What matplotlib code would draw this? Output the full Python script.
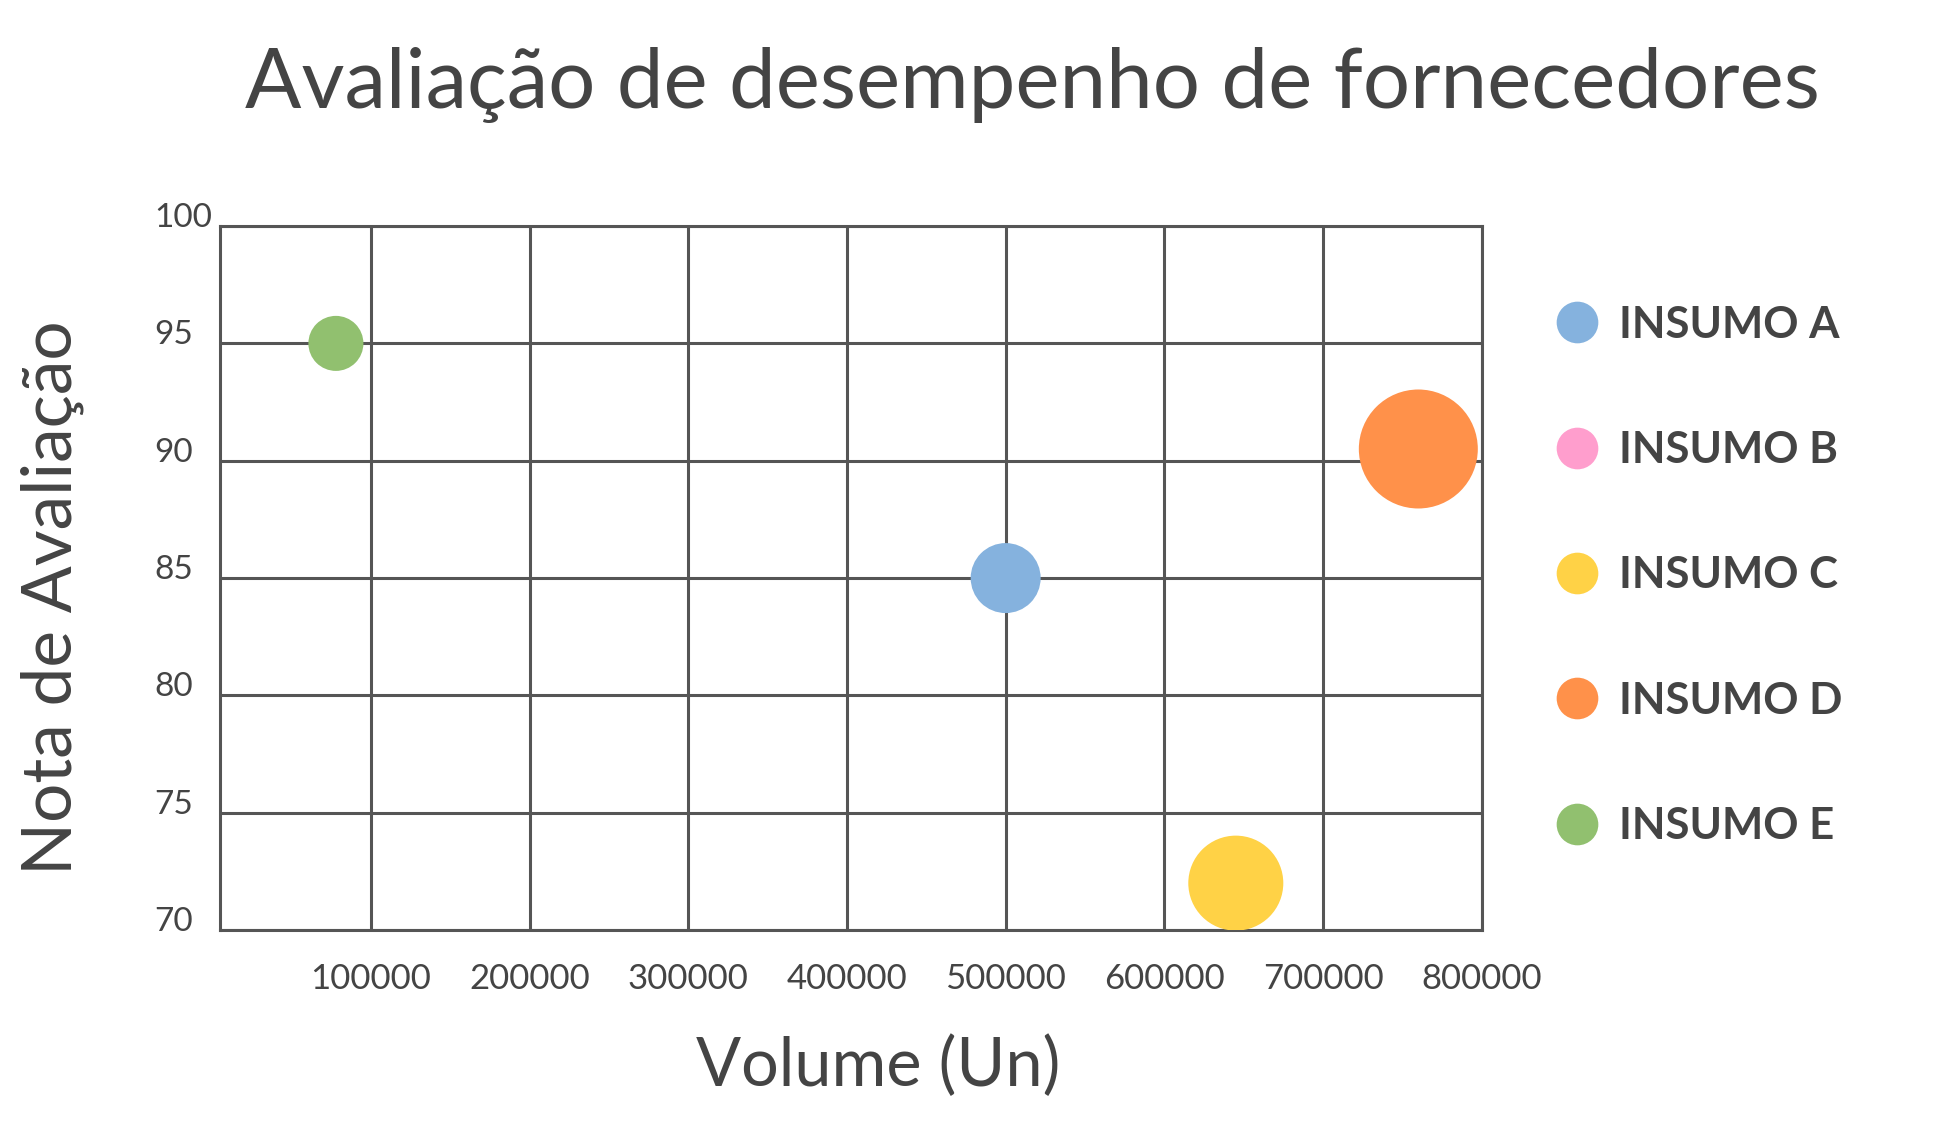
import numpy as np
import matplotlib
matplotlib.use('Agg')
import matplotlib.pyplot as plt
from matplotlib.lines import Line2D
from matplotlib.transforms import blended_transform_factory, ScaledTranslation

plt.rcParams['font.family'] = ['Lato', 'DejaVu Sans']

# dados
insumos = ['INSUMO A', 'INSUMO B', 'INSUMO C', 'INSUMO D', 'INSUMO E']
volume = [500000, np.nan, 645000, 760000, 78000]   # B nao aparece no grafico
nota = [85, np.nan, 72, 90.5, 95]
tamanho = [2540, np.nan, 4680, 7340, 1570]          # area da bolha (pt^2)
cores = ['#85b2de', '#ff9ecd', '#ffd246', '#ff914a', '#91c06f']

x_ticks = [100000, 200000, 300000, 400000, 500000, 600000, 700000, 800000]
y_ticks = [70, 75, 80, 85, 90, 95, 100]

texto = '#444444'
grade = '#555555'

fig = plt.figure(figsize=(19.37, 11.44), dpi=100)
ax = fig.add_axes([0.1136, 0.187, 0.6514, 0.6154])

ax.scatter(volume, nota, s=tamanho, c=cores, linewidths=0, zorder=3)

ax.set_xlim(5000, 800000)
ax.set_ylim(70, 100)
ax.set_xticks(x_ticks)
ax.set_xticklabels([str(v) for v in x_ticks])
ax.set_yticks(y_ticks)
ax.set_yticklabels([])
ax.tick_params(axis='both', length=0)
ax.tick_params(axis='x', pad=24, labelsize=25, labelcolor=texto)
ax.grid(True, color=grade, linewidth=2.2, zorder=1)
for sp in ax.spines.values():
    sp.set_color(grade)
    sp.set_linewidth(2.2)

# rotulos do eixo y alinhados a esquerda, logo acima de cada linha
trans = blended_transform_factory(ax.transAxes, ax.transData) + \
    ScaledTranslation(0, -5 / 72, fig.dpi_scale_trans)
for v in y_ticks:
    ax.text(-0.052, v, str(v), transform=trans, ha='left', va='bottom',
            fontsize=24, color=texto)

ax.set_xlabel('Volume (Un)', fontsize=48, color=texto)
ax.xaxis.set_label_coords(0.522, -0.15)
ax.set_ylabel('Nota de Avaliação', fontsize=50, color=texto, va='center')
ax.yaxis.set_label_coords(-0.133, 0.472)

fig.text(0.533, 0.926, 'Avaliação de desempenho de fornecedores',
         ha='center', va='center', fontsize=60, color=texto)

handles = [Line2D([], [], marker='o', linestyle='none', markersize=30,
                  markerfacecolor=c, markeredgewidth=0) for c in cores]
leg = fig.legend(handles, insumos, loc='center left',
                 bbox_to_anchor=(0.803, 0.497), frameon=False,
                 prop={'size': 31.5, 'weight': 'bold'}, labelcolor=texto,
                 handlelength=1.0, handletextpad=0.45, labelspacing=1.95,
                 borderpad=0, borderaxespad=0)

fig.savefig('out.png', dpi=100)
